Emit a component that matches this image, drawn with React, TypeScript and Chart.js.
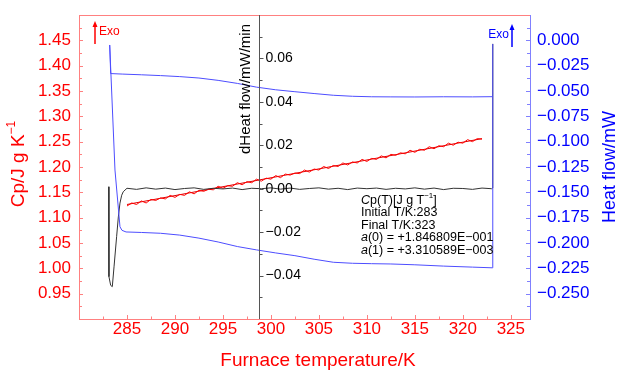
import React, { useEffect, useRef } from 'react';
import { Chart, registerables } from 'chart.js';
Chart.register(...registerables);

const FONT = '"Liberation Sans", Arial, Helvetica, sans-serif';
const RED = '#ff0000';
const RED_AXIS = '#ff8080';
const BLUE = '#0000ff';
const BLUE_AXIS = '#8080ff';
const BLUE_LINE = '#4d4dff';
const BLACK_LINE = '#333333';

// ---- axes ----
const TEMP_MIN = 280;
const TEMP_MAX = 327;
const TEMP_TICKS = [285, 290, 295, 300, 305, 310, 315, 320, 325];
const TEMP_MINOR_TICKS = [282.5, 287.5, 292.5, 297.5, 302.5, 307.5, 312.5, 317.5, 322.5];

const CP_MIN = 0.9;
const CP_MAX = 1.5;
const CP_TICKS = [0.95, 1.0, 1.05, 1.1, 1.15, 1.2, 1.25, 1.3, 1.35, 1.4, 1.45];
const CP_MINOR_TICKS = [0.925, 0.975, 1.025, 1.075, 1.125, 1.175, 1.225, 1.275, 1.325, 1.375, 1.425, 1.475];

const HF_MIN = -0.275;
const HF_MAX = 0.025;
const HF_TICKS = [0, -0.025, -0.05, -0.075, -0.1, -0.125, -0.15, -0.175, -0.2, -0.225, -0.25];
const HF_MINOR_TICKS = [0.0125, -0.0125, -0.0375, -0.0625, -0.0875, -0.1125, -0.1375, -0.1625, -0.1875, -0.2125, -0.2375, -0.2625];

const DHF_MIN = -0.06;
const DHF_MAX = 0.08;
const DHF_AXIS_AT = 298.8;
const DHF_TICKS = [-0.04, -0.02, 0, 0.02, 0.04, 0.06];
const DHF_MINOR_TICKS = [-0.05, -0.03, -0.01, 0.01, 0.03, 0.05, 0.07];

// ---- data ----
// Heat flow, baseline (upper blue)
const HF_BASE_T = [283.2, 283.3, 284.5, 286.5, 288.5, 290.5, 292.5, 294.5, 296.5, 298.5, 300.5, 302.5, 304.5, 306.5, 308.5, 310.5, 312.5, 315, 318, 321, 323.1];
const HF_BASE_V = [-0.0046, -0.0328, -0.0333, -0.034, -0.0348, -0.0358, -0.0372, -0.0395, -0.0425, -0.0462, -0.0488, -0.0507, -0.0525, -0.0542, -0.0552, -0.0557, -0.0558, -0.0559, -0.0557, -0.0558, -0.0556];

// Heat flow, sample (lower blue)
const HF_SAMPLE_T = [283.2, 283.75, 284.27, 284.48, 284.9, 286.5, 288.5, 290.5, 292.5, 294.5, 296.5, 298.5, 300.5, 302.5, 304.5, 306.5, 308.5, 310.5, 312.5, 315, 318, 321, 323.1, 323.12];
const HF_SAMPLE_V = [-0.0046, -0.128, -0.184, -0.1875, -0.1891, -0.1896, -0.1904, -0.1922, -0.1952, -0.199, -0.2035, -0.2068, -0.2098, -0.2125, -0.216, -0.219, -0.22, -0.2204, -0.2207, -0.2215, -0.2228, -0.2238, -0.2245, -0.0036];

// Derivative of heat flow (black)
const DHF_T = [283.09, 283.12, 283.3, 283.47, 283.65, 283.92, 284.1, 284.27, 284.45, 284.61, 284.8,
  285, 286, 287, 288, 289, 290, 291, 292, 293, 294, 295, 296, 297, 298, 299, 300, 301, 302, 303,
  304, 305, 306, 307, 308, 309, 310, 311, 312, 313, 314, 315, 316, 317, 318, 319, 320, 321, 322, 323,
  323.1, 323.12];
const DHF_V = [0.0009, -0.0405, -0.0445, -0.0451, -0.036, -0.0221, -0.013, -0.0066, -0.003, -0.0014, -0.0006,
  0.0002, -0.0003, 0.0004, -0.0002, 0.0003, -0.0004, 0.0001, 0.0004, -0.0003, 0.0002, -0.0001, 0.0003, -0.0004, 0.0002, 0.0, 0.0004, -0.0002, 0.0003, -0.0003,
  0.0001, 0.0004, -0.0002, 0.0002, -0.0004, 0.0003, 0.0, 0.0003, -0.0003, 0.0002, -0.0001, 0.0004, -0.0002, 0.0003, -0.0004, 0.0002, 0.0001, -0.0003, 0.0003, 0.0,
  0.0003, 0.0667];

// Heat capacity measured (red, noisy)
const CP_T = [285, 285.5, 286, 286.5, 287, 287.5, 288, 288.5, 289, 289.5, 290, 290.5, 291, 291.5, 292, 292.5, 293, 293.5, 294, 294.5,
  295, 295.5, 296, 296.5, 297, 297.5, 298, 298.5, 299, 299.5, 300, 300.5, 301, 301.5, 302, 302.5, 303, 303.5, 304, 304.5,
  305, 305.5, 306, 306.5, 307, 307.5, 308, 308.5, 309, 309.5, 310, 310.5, 311, 311.5, 312, 312.5, 313, 313.5, 314, 314.5,
  315, 315.5, 316, 316.5, 317, 317.5, 318, 318.5, 319, 319.5, 320, 320.5, 321, 321.5, 322];
const CP_V = [1.123, 1.129, 1.126, 1.133, 1.129, 1.136, 1.134, 1.139, 1.137, 1.144, 1.14, 1.146, 1.144, 1.151, 1.147, 1.154, 1.152, 1.156, 1.155, 1.162,
  1.158, 1.163, 1.162, 1.169, 1.165, 1.171, 1.169, 1.176, 1.172, 1.178, 1.176, 1.183, 1.179, 1.186, 1.184, 1.188, 1.187, 1.194, 1.19, 1.196,
  1.194, 1.201, 1.197, 1.203, 1.201, 1.208, 1.204, 1.21, 1.208, 1.215, 1.211, 1.217, 1.215, 1.222, 1.218, 1.225, 1.223, 1.228, 1.226, 1.233,
  1.229, 1.235, 1.233, 1.24, 1.236, 1.242, 1.24, 1.247, 1.243, 1.249, 1.247, 1.254, 1.25, 1.256, 1.255];

// Linear fit of Cp (red)
const CP_FIT_T = [285, 322];
const CP_FIT_V = [1.126, 1.256];

// ---- texts ----
const X_TITLE = 'Furnace temperature/K';
const Y_LEFT_TITLE = 'Cp/J g K';
const Y_RIGHT_TITLE = 'Heat flow/mW';
const Y_MID_TITLE = 'dHeat flow/mW/min';
const EXO = 'Exo';

const pts = (t: number[], v: number[]) => t.map((x, i) => ({ x, y: v[i] }));
const has = (arr: number[], v: number) => arr.some((a) => Math.abs(a - v) < 1e-6);
const minus = (s: string) => s.replace('-', '\u2212');

const drawRuns = (ctx: CanvasRenderingContext2D, x: number, y: number, runs: { t: string; f: string; dy?: number }[]) => {
  let cx = x;
  for (const r of runs) {
    ctx.font = r.f;
    ctx.fillText(r.t, cx, y + (r.dy || 0));
    cx += ctx.measureText(r.t).width;
  }
  return cx - x;
};

const measureRuns = (ctx: CanvasRenderingContext2D, runs: { t: string; f: string }[]) => {
  let w = 0;
  for (const r of runs) {
    ctx.font = r.f;
    w += ctx.measureText(r.t).width;
  }
  return w;
};

const arrow = (ctx: CanvasRenderingContext2D, x: number, yBottom: number, yTop: number, color: string) => {
  ctx.strokeStyle = color;
  ctx.fillStyle = color;
  ctx.lineWidth = 1.5;
  ctx.beginPath();
  ctx.moveTo(x, yBottom);
  ctx.lineTo(x, yTop + 5);
  ctx.stroke();
  ctx.beginPath();
  ctx.moveTo(x, yTop);
  ctx.lineTo(x - 2.5, yTop + 6);
  ctx.lineTo(x + 2.5, yTop + 6);
  ctx.closePath();
  ctx.fill();
};

const decorPlugin = {
  id: 'decor',
  afterDraw(chart: any) {
    const ctx: CanvasRenderingContext2D = chart.ctx;
    const { left, right, top, bottom } = chart.chartArea;
    const xs = chart.scales.x;
    const ys = chart.scales.y;
    const y1 = chart.scales.y1;
    const y2 = chart.scales.y2;
    const al = (v: number) => Math.round(v) + 0.5;
    ctx.save();
    ctx.lineWidth = 1;

    // top border
    ctx.strokeStyle = RED_AXIS;
    ctx.beginPath();
    ctx.moveTo(left, al(top));
    ctx.lineTo(right, al(top));
    ctx.stroke();

    // x ticks (inward)
    ctx.strokeStyle = RED_AXIS;
    for (const v of TEMP_TICKS) {
      const px = al(xs.getPixelForValue(v));
      ctx.beginPath(); ctx.moveTo(px, bottom); ctx.lineTo(px, bottom - 4); ctx.stroke();
    }
    for (const v of TEMP_MINOR_TICKS) {
      const px = al(xs.getPixelForValue(v));
      ctx.beginPath(); ctx.moveTo(px, bottom); ctx.lineTo(px, bottom - 2.5); ctx.stroke();
    }
    // left ticks
    for (const v of CP_TICKS) {
      const py = al(ys.getPixelForValue(v));
      ctx.beginPath(); ctx.moveTo(left, py); ctx.lineTo(left + 4, py); ctx.stroke();
    }
    for (const v of CP_MINOR_TICKS) {
      const py = al(ys.getPixelForValue(v));
      ctx.beginPath(); ctx.moveTo(left, py); ctx.lineTo(left + 3, py); ctx.stroke();
    }
    // right ticks
    ctx.strokeStyle = BLUE_AXIS;
    for (const v of HF_TICKS) {
      const py = al(y1.getPixelForValue(v));
      ctx.beginPath(); ctx.moveTo(right, py); ctx.lineTo(right - 4, py); ctx.stroke();
    }
    for (const v of HF_MINOR_TICKS) {
      const py = al(y1.getPixelForValue(v));
      ctx.beginPath(); ctx.moveTo(right, py); ctx.lineTo(right - 3, py); ctx.stroke();
    }

    // middle axis
    const mx = al(xs.getPixelForValue(DHF_AXIS_AT));
    ctx.strokeStyle = '#555555';
    ctx.beginPath(); ctx.moveTo(mx, top); ctx.lineTo(mx, bottom); ctx.stroke();
    for (const v of DHF_TICKS) {
      const py = al(y2.getPixelForValue(v));
      ctx.beginPath(); ctx.moveTo(mx, py); ctx.lineTo(mx + 4, py); ctx.stroke();
    }
    for (const v of DHF_MINOR_TICKS) {
      const py = al(y2.getPixelForValue(v));
      ctx.beginPath(); ctx.moveTo(mx, py); ctx.lineTo(mx + 3, py); ctx.stroke();
    }
    ctx.fillStyle = '#000000';
    ctx.font = `14px ${FONT}`;
    ctx.textAlign = 'left';
    ctx.textBaseline = 'middle';
    for (const v of DHF_TICKS) {
      const py = y2.getPixelForValue(v);
      ctx.fillText(minus(v.toFixed(2)), mx + 6, py);
    }

    // mid title
    ctx.save();
    ctx.translate(245.5, 89);
    ctx.rotate(-Math.PI / 2);
    ctx.textAlign = 'center';
    ctx.font = `15px ${FONT}`;
    ctx.fillStyle = '#000000';
    ctx.fillText(Y_MID_TITLE, 0, 0);
    ctx.restore();

    // left title with superscript
    ctx.save();
    ctx.translate(19, 164);
    ctx.rotate(-Math.PI / 2);
    ctx.fillStyle = RED;
    ctx.textAlign = 'left';
    ctx.textBaseline = 'middle';
    const lRuns = [
      { t: Y_LEFT_TITLE, f: `19px ${FONT}` },
      { t: '\u22121', f: `12px ${FONT}`, dy: -7 },
    ];
    const lw = measureRuns(ctx, lRuns);
    drawRuns(ctx, -lw / 2, 0, lRuns);
    ctx.restore();

    // right title
    ctx.save();
    ctx.translate(610, 167);
    ctx.rotate(-Math.PI / 2);
    ctx.fillStyle = BLUE;
    ctx.textAlign = 'center';
    ctx.textBaseline = 'middle';
    ctx.font = `18px ${FONT}`;
    ctx.fillText(Y_RIGHT_TITLE, 0, 0);
    ctx.restore();

    // x title
    ctx.fillStyle = RED;
    ctx.textAlign = 'center';
    ctx.textBaseline = 'middle';
    ctx.font = `19px ${FONT}`;
    ctx.fillText(X_TITLE, 318, 361);

    // Exo markers
    arrow(ctx, 95, 44, 21, RED);
    ctx.fillStyle = RED;
    ctx.textAlign = 'left';
    ctx.textBaseline = 'middle';
    ctx.font = `12px ${FONT}`;
    ctx.fillText(EXO, 99, 32);
    arrow(ctx, 512, 47, 24, BLUE);
    ctx.fillStyle = BLUE;
    ctx.textAlign = 'right';
    ctx.fillText(EXO, 509, 35);

    // annotation
    ctx.fillStyle = '#000000';
    ctx.textAlign = 'left';
    ctx.textBaseline = 'middle';
    const nf = `12.5px ${FONT}`;
    const itf = `italic 12.5px ${FONT}`;
    const sf = `8px ${FONT}`;
    const ax = 361;
    const ay = 200.5;
    const lh = 12.4;
    drawRuns(ctx, ax, ay, [
      { t: 'C', f: itf },
      { t: 'p(T)[J g T', f: nf },
      { t: '\u22121', f: sf, dy: -5 },
      { t: ']', f: nf },
    ]);
    drawRuns(ctx, ax, ay + lh, [{ t: 'Initial T/K:283', f: nf }]);
    drawRuns(ctx, ax, ay + lh * 2, [{ t: 'Final T/K:323', f: nf }]);
    drawRuns(ctx, ax, ay + lh * 3, [{ t: 'a', f: itf }, { t: '(0) = +1.846809E\u2212001', f: nf }]);
    drawRuns(ctx, ax, ay + lh * 4, [{ t: 'a', f: itf }, { t: '(1) = +3.310589E\u2212003', f: nf }]);

    ctx.restore();
  },
};

const tickList = (a: number[], b: number[]) => [...a, ...b].sort((p, q) => p - q).map((value) => ({ value }));

export default function App() {
  const ref = useRef<HTMLCanvasElement>(null);
  useEffect(() => {
    Chart.defaults.font.family = FONT;
    const chart = new Chart(ref.current as HTMLCanvasElement, {
      type: 'line',
      data: {
        datasets: [
          {
            label: 'Heat flow baseline',
            data: pts(HF_BASE_T, HF_BASE_V),
            yAxisID: 'y1',
            borderColor: BLUE_LINE,
            borderWidth: 1,
            pointRadius: 0,
            tension: 0,
          },
          {
            label: 'Heat flow sample',
            data: pts(HF_SAMPLE_T, HF_SAMPLE_V),
            yAxisID: 'y1',
            borderColor: BLUE_LINE,
            borderWidth: 1,
            pointRadius: 0,
            tension: 0,
          },
          {
            label: 'dHeat flow',
            data: pts(DHF_T, DHF_V),
            yAxisID: 'y2',
            borderColor: BLACK_LINE,
            borderWidth: 1,
            pointRadius: 0,
            tension: 0,
          },
          {
            label: 'Cp',
            data: pts(CP_T, CP_V),
            yAxisID: 'y',
            borderColor: RED,
            borderWidth: 1,
            pointRadius: 0,
            tension: 0,
          },
          {
            label: 'Cp fit',
            data: pts(CP_FIT_T, CP_FIT_V),
            yAxisID: 'y',
            borderColor: '#dd0000',
            borderWidth: 1,
            pointRadius: 0,
            tension: 0,
          },
        ],
      },
      options: {
        responsive: false,
        animation: false,
        devicePixelRatio: 1,
        events: [],
        layout: { padding: { top: 15, left: 0, right: 0, bottom: 0 } },
        plugins: { legend: { display: false }, tooltip: { enabled: false }, title: { display: false } },
        scales: {
          x: {
            type: 'linear',
            position: 'bottom',
            min: TEMP_MIN,
            max: TEMP_MAX,
            afterBuildTicks: (s: any) => { s.ticks = tickList(TEMP_TICKS, TEMP_MINOR_TICKS); },
            afterFit: (s: any) => { s.height = 51; s.paddingLeft = 0; s.paddingRight = 0; },
            grid: { display: true, drawOnChartArea: false, drawTicks: false },
            border: { display: true, color: RED_AXIS, width: 1 },
            ticks: {
              autoSkip: false,
              maxRotation: 0,
              minRotation: 0,
              padding: 0,
              color: RED,
              font: { size: 17, family: FONT },
              callback: (v: any) => (has(TEMP_TICKS, Number(v)) ? String(Math.round(Number(v))) : ''),
            },
            title: { display: false },
          },
          y: {
            type: 'linear',
            position: 'left',
            min: CP_MIN,
            max: CP_MAX,
            afterBuildTicks: (s: any) => { s.ticks = tickList(CP_TICKS, CP_MINOR_TICKS); },
            afterFit: (s: any) => { s.width = 79; s.paddingTop = 0; s.paddingBottom = 0; },
            grid: { display: true, drawOnChartArea: false, drawTicks: false },
            border: { display: true, color: RED_AXIS, width: 1 },
            ticks: {
              autoSkip: false,
              padding: 8,
              color: RED,
              font: { size: 17, family: FONT },
              callback: (v: any) => (has(CP_TICKS, Number(v)) ? Number(v).toFixed(2) : ''),
            },
            title: { display: false },
          },
          y1: {
            type: 'linear',
            position: 'right',
            min: HF_MIN,
            max: HF_MAX,
            afterBuildTicks: (s: any) => { s.ticks = tickList(HF_TICKS, HF_MINOR_TICKS); },
            afterFit: (s: any) => { s.width = 89; s.paddingTop = 0; s.paddingBottom = 0; },
            grid: { display: true, drawOnChartArea: false, drawTicks: false },
            border: { display: true, color: BLUE_AXIS, width: 1 },
            ticks: {
              autoSkip: false,
              padding: 7,
              color: BLUE,
              font: { size: 17, family: FONT },
              callback: (v: any) => (has(HF_TICKS, Number(v)) ? minus(Number(v).toFixed(3)) : ''),
            },
            title: { display: false },
          },
          y2: {
            type: 'linear',
            display: false,
            min: DHF_MIN,
            max: DHF_MAX,
          },
        },
      },
      plugins: [decorPlugin],
    } as any);
    return () => chart.destroy();
  }, []);
  return (
    <canvas
      ref={ref}
      width={619}
      height={370}
      style={{ position: 'fixed', left: 0, top: 0, width: 619, height: 370, background: '#ffffff' }}
    />
  );
}
